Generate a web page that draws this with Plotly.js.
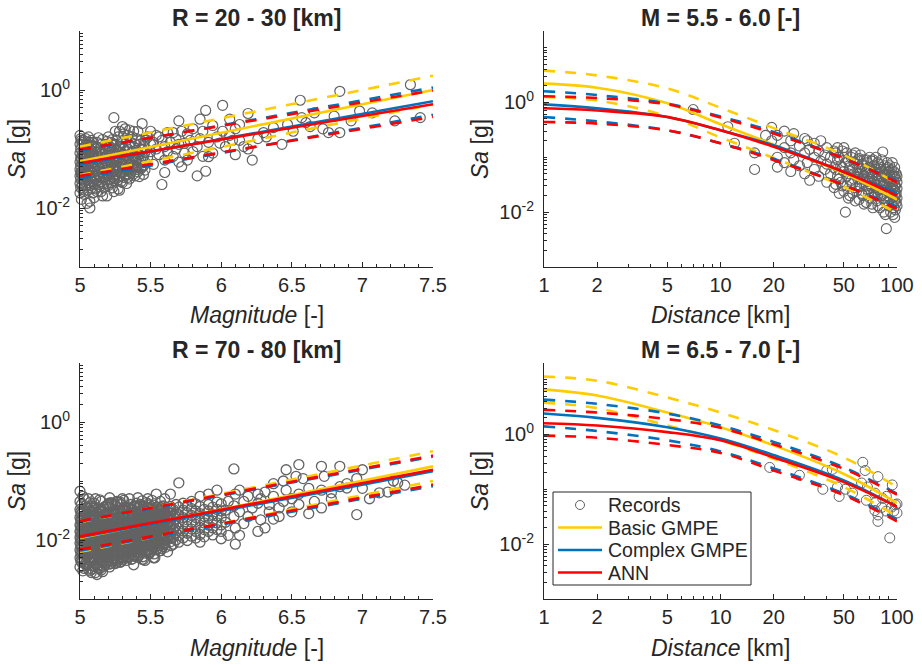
<!DOCTYPE html>
<html><head><meta charset="utf-8">
<script src="https://cdn.plot.ly/plotly-3.0.1.min.js"></script>
<style>html,body{margin:0;padding:0;background:#fff}#chart{width:922px;height:665px}</style>
</head><body><div id="chart"></div>
<script>
// ---------- DATA ----------
const titles = ["R = 20 - 30 [km]", "M = 5.5 - 6.0 [-]", "R = 70 - 80 [km]", "M = 6.5 - 7.0 [-]"];
const legendNames = ["Records", "Basic GMPE", "Complex GMPE", "ANN"];

// Panel 1: R = 20-30 km, records grouped by magnitude column
const rec1Mag = [5.00,5.01,5.02,5.03,5.04,5.05,5.06,5.07,5.08,5.10,5.12,5.14,5.16,5.18,5.20,5.22,5.24,5.26,5.28,5.30,5.32,5.34,5.36,5.38,5.40,5.42,5.44,5.46,5.48,5.50,5.52,5.54,5.56,5.58,5.60,5.62,5.64,5.66,5.68,5.70,5.72,5.74,5.76,5.78,5.80,5.83,5.85,5.87,5.89,5.91,5.94,5.97,5.99,6.01,6.03,6.06,6.08,6.10,6.13,6.16,6.19,6.22,6.26,6.30,6.32,6.37,6.43,6.47,6.51,6.56,6.57,6.60,6.63,6.66,6.72,6.76,6.80,6.84,6.92,6.98,7.07,7.23,7.34,7.41,
  5.09,5.11,5.13,5.15,5.17,5.19,5.21,5.23,5.25,5.27,5.29,5.31,5.33,5.35,5.37,5.39,5.41,5.43,5.45,5.005,5.015,5.025,5.035,5.045,5.055,5.065,5.075,5.085];
const rec1Sa = [[0.17,0.12,0.085,0.06,0.045,0.035,0.026,0.018],[0.14,0.07,0.04,0.014],[0.13,0.09,0.062,0.042,0.03,0.021],[0.105,0.05,0.017],[0.15,0.1,0.068,0.047,0.033,0.024],[0.08,0.038,0.012],[0.16,0.12,0.055,0.027],[0.01,0.013,0.075,0.043],[0.14,0.095,0.064,0.031,0.022],[0.11,0.073,0.05,0.035,0.025,0.015],[0.13,0.088,0.06,0.042,0.029,0.019],[0.1,0.068,0.047,0.033,0.023],[0.145,0.08,0.055,0.038,0.026,0.016],[0.12,0.09,0.063,0.044,0.03],[0.16,0.1,0.07,0.05,0.035,0.024],[0.13,0.078,0.054,0.038,0.027],[0.34,0.115,0.085,0.06,0.042,0.029,0.019],[0.14,0.095,0.066,0.046,0.032],[0.2,0.105,0.072,0.05,0.035,0.02],[0.24,0.125,0.08,0.056,0.039,0.027],[0.22,0.09,0.062,0.043],[0.17,0.1,0.07,0.048,0.033],[0.13,0.085,0.058,0.04],[0.2,0.075,0.052,0.038],[0.15,0.095,0.065,0.045],[0.12,0.08,0.034],[0.27,0.1,0.068,0.05],[0.14,0.088,0.06,0.044],[0.074,0.16],[0.2,0.12,0.09],[0.055,0.13],[0.17,0.1],[0.08,0.16],[0.025,0.14],[0.11,0.065,0.04],[0.19,0.09],[0.13],[0.19,0.075],[0.15,0.1],[0.3,0.12,0.06],[0.2,0.05],[0.125,0.085],[0.065,0.18],[0.14],[0.09,0.22],[0.035,0.11],[0.32,0.15],[0.075,0.2],[0.042,0.45],[0.074,0.13],[0.085,0.25],[0.16],[0.126],[0.55,0.2],[0.11],[0.32,0.17],[0.14],[0.08,0.22],[0.14,0.26],[0.11],[0.1,0.4],[0.065],[0.15],[0.19],[0.16],[0.23],[0.12],[0.26],[0.2],[0.67],[0.34],[0.28],[0.24],[0.41],[0.22],[0.19],[0.36],[0.95,0.19],[0.3],[0.44],[0.41],[0.3],[1.23],[0.34],
  [0.13,0.082,0.057,0.04,0.028,0.018],[0.1,0.066,0.046,0.032,0.021],[0.155,0.075,0.052,0.036,0.025],[0.12,0.085,0.058,0.041,0.028,0.019],[0.1,0.069,0.048,0.034,0.022],[0.135,0.078,0.055,0.039,0.026,0.016],[0.11,0.088,0.062,0.043,0.03],[0.145,0.095,0.068,0.047,0.033,0.022],[0.2,0.12,0.075,0.053,0.037],[0.16,0.09,0.062,0.044,0.03,0.021],[0.13,0.083,0.058,0.04,0.028],[0.18,0.1,0.068,0.047,0.033],[0.14,0.077,0.054,0.037,0.026],[0.21,0.11,0.062,0.044,0.031],[0.16,0.09,0.067,0.047],[0.12,0.072,0.05,0.035],[0.2,0.085,0.058,0.041],[0.14,0.1,0.064,0.046],[0.11,0.075,0.052,0.037],[0.15,0.1,0.07,0.052,0.04,0.031,0.022],[0.12,0.08,0.055,0.036,0.025],[0.14,0.075,0.05,0.034,0.019],[0.09,0.06,0.04,0.028],[0.12,0.078,0.052,0.036],[0.1,0.065,0.044,0.03,0.02],[0.13,0.085,0.058,0.04],[0.095,0.062,0.034,0.024],[0.11,0.072,0.048]];

// Panel 3: R = 70-80 km
const rec3Mag = [5.00,5.02,5.04,5.06,5.08,5.10,5.12,5.14,5.16,5.18,5.20,5.22,5.24,5.26,5.28,5.30,5.32,5.34,5.36,5.38,5.40,5.42,5.44,5.46,5.48,5.50,5.52,5.54,5.56,5.58,5.60,5.62,5.64,5.66,5.68,5.70,5.73,5.76,5.79,5.82,5.85,5.88,5.91,5.94,5.97,6.00,6.03,6.05,6.09,6.10,6.13,6.16,6.19,6.22,6.26,6.28,6.31,6.34,6.37,6.41,6.44,6.46,6.50,6.53,6.55,6.58,6.62,6.66,6.71,6.73,6.78,6.84,6.89,6.96,7.00,7.05,7.12,7.18,7.22,7.25,7.30,
  5.01,5.03,5.05,5.07,5.09,5.11,5.13,5.15,5.17,5.19,5.21,5.23,5.25,5.27,5.29,5.31,5.33,5.35,5.37,5.39,5.41,5.43,5.45,5.47,5.49,5.51,5.53,5.55,5.57,5.59,
  5.005,5.045,5.085,5.125,5.165,5.205,5.245,5.285,5.325,5.365,5.405,5.445,5.485,5.525,5.565,5.605,5.645];
const rec3Sa = [[0.0035,0.005,0.0068,0.0088,0.011,0.014,0.018,0.024,0.033,0.045,0.067],[0.003,0.0045,0.006,0.008,0.01,0.013,0.017,0.022,0.03,0.055],[0.004,0.0055,0.0072,0.0095,0.012,0.015,0.02,0.027,0.038],[0.0032,0.0047,0.0064,0.0085,0.011,0.014,0.019,0.025,0.035,0.05],[0.0028,0.0042,0.0058,0.0078,0.01,0.013,0.017,0.023,0.031],[0.0036,0.005,0.0068,0.009,0.0115,0.0148,0.019,0.026,0.036,0.042],[0.0026,0.004,0.0056,0.0075,0.0098,0.0125,0.016,0.021,0.029],[0.0033,0.0047,0.0064,0.0085,0.011,0.014,0.018,0.024,0.033,0.048],[0.0029,0.0044,0.006,0.0081,0.0105,0.0135,0.0175,0.023,0.031],[0.0038,0.0053,0.007,0.0092,0.012,0.0155,0.02,0.027,0.037],[0.0045,0.006,0.0078,0.01,0.013,0.0165,0.021,0.028,0.04],[0.004,0.0056,0.0074,0.0097,0.0125,0.016,0.021,0.029,0.043],[0.0048,0.0064,0.0084,0.011,0.014,0.018,0.023,0.031],[0.0042,0.0058,0.0077,0.01,0.013,0.017,0.022,0.03,0.045],[0.005,0.0067,0.0088,0.0115,0.015,0.019,0.025,0.034],[0.0046,0.0062,0.0082,0.0107,0.014,0.018,0.024,0.033,0.05],[0.0054,0.0072,0.0094,0.012,0.0155,0.02,0.026,0.036],[0.005,0.0066,0.0087,0.0113,0.0147,0.019,0.025,0.034],[0.0058,0.0077,0.01,0.013,0.0168,0.022,0.029,0.04],[0.0038,0.0053,0.007,0.0092,0.012,0.0157,0.02,0.027,0.037],[0.006,0.008,0.0105,0.0136,0.0175,0.023,0.03,0.042],[0.0055,0.0073,0.0095,0.0124,0.016,0.021,0.028,0.038],[0.0047,0.0086,0.011,0.0145,0.019,0.025,0.033,0.046],[0.0045,0.006,0.008,0.0105,0.0137,0.018,0.024,0.032],[0.007,0.0093,0.012,0.0157,0.02,0.027,0.036,0.05],[0.0064,0.0085,0.011,0.0145,0.019,0.025,0.033],[0.005,0.0075,0.01,0.013,0.017,0.022,0.029,0.039],[0.0068,0.009,0.0118,0.0155,0.02,0.027,0.036,0.06],[0.008,0.0106,0.014,0.018,0.024,0.031],[0.0072,0.0096,0.0125,0.0165,0.021,0.028,0.037],[0.0087,0.0115,0.015,0.02,0.026,0.034,0.05],[0.0063,0.0103,0.0135,0.0178,0.023,0.03],[0.0093,0.0123,0.016,0.021,0.028,0.037,0.06],[0.0085,0.0112,0.0147,0.019,0.025,0.033],[0.01,0.0132,0.0173,0.0225,0.029,0.04],[0.0092,0.012,0.0158,0.0205,0.027,0.036,0.093],[0.0108,0.0142,0.0186,0.024,0.032,0.042],[0.0098,0.013,0.017,0.022,0.029,0.038],[0.0116,0.0153,0.02,0.026,0.034,0.045],[0.0108,0.014,0.0184,0.024,0.031,0.041],[0.0092,0.0124,0.0163,0.0213,0.028,0.037,0.055],[0.0113,0.015,0.0195,0.025,0.033],[0.014,0.018,0.0235,0.031,0.04,0.06],[0.0122,0.016,0.021,0.027,0.036],[0.015,0.0195,0.0255,0.033,0.044,0.07],[0.0105,0.014,0.018,0.024,0.031,0.041],[0.02,0.032],[0.012,0.045],[0.16,0.025,0.038],[0.0085,0.016,0.06],[0.012,0.03,0.07],[0.019,0.045],[0.025,0.055],[0.035],[0.014,0.042,0.06],[0.022,0.05],[0.016,0.065],[0.03,0.04],[0.0226,0.055,0.09],[0.025,0.035],[0.1,0.045],[0.155,0.07],[0.03,0.05],[0.12],[0.19,0.06,0.04],[0.11],[0.075,0.028],[0.045],[0.177,0.035,0.07],[0.12],[0.063,0.05],[0.177,0.08],[0.076,0.09],[0.027,0.11],[0.155,0.075],[0.05],[0.063],[0.065],[0.1],[0.093],[0.085],
  [0.0042,0.0058,0.0077,0.0098,0.0125,0.016,0.021,0.028,0.04],[0.0033,0.0048,0.0063,0.0083,0.0106,0.0135,0.0175,0.023,0.031,0.05],[0.0038,0.0052,0.007,0.0092,0.0118,0.015,0.0195,0.026,0.036],[0.003,0.0044,0.006,0.008,0.0102,0.013,0.0168,0.022,0.03,0.043],[0.0036,0.005,0.0066,0.0087,0.0112,0.0143,0.0185,0.025,0.034],[0.0028,0.0045,0.0062,0.0082,0.0106,0.0137,0.0178,0.024,0.032,0.05],[0.0034,0.0049,0.0066,0.0088,0.0114,0.0146,0.019,0.025,0.035],[0.0031,0.0046,0.0063,0.0084,0.0108,0.014,0.018,0.024,0.033,0.045],[0.0036,0.0051,0.0069,0.009,0.0117,0.015,0.0195,0.026,0.036],[0.0042,0.0057,0.0075,0.0098,0.0127,0.0163,0.021,0.028,0.039],[0.0035,0.005,0.0068,0.009,0.0118,0.0152,0.02,0.026,0.036,0.052],[0.0044,0.006,0.0079,0.0103,0.0133,0.017,0.022,0.03,0.041],[0.004,0.0055,0.0073,0.0096,0.0124,0.016,0.021,0.028,0.038],[0.0047,0.0063,0.0083,0.0108,0.014,0.018,0.024,0.032,0.044],[0.0043,0.0059,0.0078,0.0102,0.0132,0.017,0.022,0.03,0.04],[0.005,0.0067,0.0088,0.0115,0.0148,0.019,0.025,0.034,0.047],[0.0045,0.0061,0.0081,0.0106,0.0137,0.0178,0.023,0.031],[0.0053,0.0071,0.0093,0.0121,0.0156,0.02,0.026,0.036,0.05],[0.0048,0.0065,0.0086,0.0112,0.0145,0.0188,0.024,0.033],[0.0056,0.0075,0.0098,0.0128,0.0165,0.021,0.028,0.038],[0.0051,0.0069,0.009,0.0118,0.0153,0.02,0.026,0.035,0.052],[0.006,0.008,0.0104,0.0135,0.0175,0.023,0.03,0.04],[0.0047,0.0073,0.0096,0.0125,0.0162,0.021,0.027,0.037],[0.0064,0.0085,0.011,0.0143,0.0185,0.024,0.031,0.043],[0.0058,0.0078,0.0102,0.0133,0.0172,0.022,0.029,0.039],[0.0068,0.009,0.0117,0.0152,0.0197,0.026,0.034,0.047],[0.005,0.0083,0.0108,0.014,0.0182,0.024,0.031],[0.0073,0.0097,0.0126,0.0163,0.021,0.027,0.036],[0.0066,0.0088,0.0115,0.015,0.0195,0.025,0.033,0.045],[0.0078,0.0103,0.0134,0.0174,0.0225,0.029,0.038],
  [0.0045,0.0062,0.0082,0.0105,0.0135,0.0172,0.022,0.03],[0.0037,0.0053,0.0071,0.0093,0.012,0.0155,0.02,0.027],[0.0032,0.0048,0.0066,0.0088,0.0114,0.0147,0.019,0.026,0.038],[0.0036,0.0053,0.0072,0.0095,0.0122,0.0157,0.0205,0.028],[0.0042,0.0058,0.0078,0.0101,0.013,0.0167,0.0215,0.03],[0.0039,0.0055,0.0075,0.0099,0.0128,0.0166,0.0215,0.029,0.042],[0.0046,0.0062,0.0082,0.0107,0.0138,0.0178,0.023,0.031],[0.0042,0.0059,0.0079,0.0104,0.0135,0.0176,0.0228,0.031,0.044],[0.005,0.0068,0.0089,0.0116,0.015,0.0194,0.025,0.034],[0.0047,0.0064,0.0085,0.0111,0.0144,0.0186,0.024,0.033],[0.0055,0.0074,0.0097,0.0127,0.0164,0.021,0.028,0.038],[0.0052,0.007,0.0092,0.012,0.0155,0.02,0.026,0.035],[0.006,0.0081,0.0106,0.0138,0.0179,0.023,0.03,0.041],[0.0058,0.0078,0.0102,0.0133,0.0172,0.0225,0.029],[0.0066,0.0088,0.0115,0.015,0.0195,0.025,0.033],[0.0075,0.01,0.013,0.017,0.022,0.029],[0.008,0.0107,0.014,0.018,0.024,0.032]];

// Panel 2: M = 5.5-6.0, records grouped by distance column
const rec2Dist = [7,11,12,15.6,18,19.5,21,23,25,26,28,30,31,32,34,36,37,39,40,42,44,46,48,50,51,52,54,55,57,58,60,62,63,65,66,68,70,71,73,74,76,77,79,80,82,83,85,86,87,88,90,91,92,93,94,95,96,97,98,99,100,
  45,47,49,53,56,59,61,64,67,69,72,75,78,81,84,89,97];
const rec2Sa = [[0.74],[0.36],[0.18],[0.12,0.06],[0.25],[0.35,0.2],[0.25,0.1,0.066],[0.15,0.3,0.08],[0.2,0.12,0.055],[0.27,0.09],[0.16,0.07],[0.22,0.12,0.05],[0.2,0.08],[0.038,0.14],[0.1,0.06,0.18],[0.13,0.045],[0.2,0.085],[0.11,0.06],[0.15,0.075,0.035],[0.1,0.05],[0.13,0.065,0.028],[0.15,0.09,0.045],[0.07,0.035],[0.15,0.1,0.055,0.024],[0.01,0.08],[0.045,0.12,0.03],[0.065,0.02],[0.1,0.038],[0.08,0.05],[0.12,0.028,0.016],[0.065,0.04,0.09],[0.055,0.03,0.11],[0.075,0.022],[0.045,0.09,0.014],[0.06,0.035],[0.08,0.026,0.05],[0.1,0.04,0.065,0.018],[0.03,0.055],[0.09,0.045,0.012],[0.07,0.022,0.035],[0.06,0.028,0.1],[0.04,0.016],[0.075,0.05,0.025],[0.033,0.012,0.06],[0.09,0.044,0.02],[0.125,0.03,0.055],[0.07,0.016,0.038],[0.048,0.025,0.009],[0.005,0.06,0.03],[0.08,0.02,0.042],[0.055,0.013,0.034,0.024],[0.07,0.017,0.045],[0.038,0.01,0.028],[0.06,0.022,0.05],[0.032,0.014,0.08],[0.045,0.019,0.027,0.009],[0.055,0.036,0.012],[0.025,0.065,0.016],[0.04,0.03,0.02,0.011],[0.05,0.015,0.022],[0.035,0.027,0.018,0.013,0.045],
  [0.12,0.06,0.032],[0.1,0.04,0.022],[0.13,0.065,0.03],[0.085,0.05,0.018],[0.11,0.06,0.033,0.022],[0.075,0.045,0.024],[0.095,0.05,0.03,0.017],[0.07,0.04,0.02],[0.09,0.055,0.03,0.015],[0.065,0.036,0.022],[0.085,0.05,0.028,0.014],[0.055,0.032,0.02],[0.08,0.045,0.026,0.013],[0.065,0.037,0.021],[0.05,0.03,0.018,0.01],[0.065,0.04,0.024,0.015],[0.045,0.03,0.021,0.008]];

// Panel 4: M = 6.5-7.0
const rec4Dist = [19,28,38,40,43,46,47,51,56,63,64,66,67,68,75,76,78,82,83,87,91,93,94,96,98,100];
const rec4Sa = [[0.25],[0.18],[0.1],[0.22],[0.23],[0.11],[0.074],[0.1],[0.085],[0.13],[0.31],[0.22],[0.063],[0.11],[0.085,0.041],[0.058],[0.17,0.034,0.026],[0.047],[0.068],[0.074,0.04],[0.013],[0.047],[0.12],[0.04],[0.052],[0.054,0.037]];

// Model curves
const magGrid = [5, 5.5, 6, 6.5, 7, 7.5];
const distGrid = [1, 2, 5, 10, 20, 50, 100];
// Panel 1 (R = 20-30 km)
const p1Basic = {med:[0.062,0.108,0.188,0.328,0.573,1.0], up:[0.11,0.19,0.33,0.57,1.0,1.75], lo:[0.036,0.062,0.108,0.19,0.33,0.57]};
const p1Complex = {med:[0.055,0.09,0.147,0.241,0.394,0.646], up:[0.094,0.155,0.25,0.41,0.67,1.1], lo:[0.032,0.052,0.086,0.14,0.23,0.38]};
const p1ANN = {med:[0.058,0.091,0.145,0.23,0.363,0.575], up:[0.098,0.155,0.245,0.39,0.62,0.98], lo:[0.035,0.055,0.087,0.138,0.22,0.35]};
// Panel 2 (M = 5.5-6.0)
const p2Basic = {med:[2.2,1.85,0.96,0.4,0.17,0.051,0.017], up:[3.8,3.1,1.8,0.8,0.34,0.11,0.033], lo:[1.25,1.08,0.56,0.23,0.097,0.029,0.0097]};
const p2Complex = {med:[0.92,0.78,0.54,0.31,0.165,0.054,0.022], up:[1.6,1.36,0.95,0.55,0.29,0.095,0.037], lo:[0.54,0.45,0.31,0.18,0.094,0.031,0.0125]};
const p2ANN = {med:[0.78,0.71,0.54,0.31,0.155,0.054,0.02], up:[1.29,1.2,0.92,0.53,0.27,0.095,0.035], lo:[0.44,0.41,0.31,0.18,0.089,0.031,0.0115]};
// Panel 3 (R = 70-80 km)
const p3Basic = {med:[0.0108,0.0189,0.033,0.0578,0.101,0.177], up:[0.02,0.0348,0.0607,0.106,0.184,0.32], lo:[0.0063,0.011,0.0191,0.0331,0.0575,0.1]};
const p3Complex = {med:[0.0112,0.0186,0.0311,0.0519,0.0865,0.146], up:[0.0205,0.034,0.056,0.093,0.155,0.26], lo:[0.0066,0.011,0.0182,0.0302,0.05,0.082]};
const p3ANN = {med:[0.0115,0.0193,0.0325,0.0547,0.092,0.155], up:[0.021,0.035,0.058,0.097,0.162,0.27], lo:[0.0069,0.0115,0.019,0.0316,0.0525,0.087]};
// Panel 4 (M = 6.5-7.0)
const p4Basic = {med:[6.6,5.1,2.5,1.35,0.63,0.19,0.056], up:[11.3,9.5,4.7,2.5,1.2,0.38,0.11], lo:[3.8,3.0,1.45,0.78,0.36,0.11,0.032]};
const p4Complex = {med:[2.4,2.0,1.35,0.84,0.42,0.145,0.048], up:[4.3,3.6,2.4,1.45,0.73,0.25,0.083], lo:[1.4,1.15,0.78,0.49,0.24,0.083,0.028]};
const p4ANN = {med:[1.6,1.45,1.1,0.78,0.38,0.135,0.048], up:[2.8,2.5,1.9,1.32,0.66,0.235,0.08], lo:[0.95,0.87,0.64,0.46,0.22,0.078,0.026]};

// ---------- STYLE ----------
const FONT = "Liberation Sans, Arial, Helvetica, sans-serif";
const TXT = "#262626";
const colors = {basic:"#FFCC00", complex:"#0072BD", ann:"#FF0000"};
const modelColors = [colors.basic, colors.complex, colors.ann];
const markerGray = "#636363";
const LW = 2.6;

function flatten(cols, lists){
  const x=[], y=[];
  cols.forEach((c,i)=>lists[i].forEach(v=>{x.push(c); y.push(v);}));
  return {x, y};
}

const traces = [];
function addPanel(ax, cols, lists, grid, models, spline, mlw){
  const r = flatten(cols, lists);
  traces.push({type:"scatter", mode:"markers", x:r.x, y:r.y, xaxis:"x"+ax, yaxis:"y"+ax,
    name:legendNames[0], showlegend:false, cliponaxis:false,
    marker:{symbol:"circle-open", size:10, color:markerGray, line:{width:mlw, color:markerGray}}, hoverinfo:"skip"});
  models.forEach((m,i)=>{
    const col = modelColors[i];
    const shape = spline ? "spline" : "linear";
    ["up","lo"].forEach(k=>{
      traces.push({type:"scatter", mode:"lines", x:grid, y:m[k], xaxis:"x"+ax, yaxis:"y"+ax,
        showlegend:false, line:{color:col, width:LW, dash:"11px,10px", shape:shape}, hoverinfo:"skip"});
    });
    traces.push({type:"scatter", mode:"lines", x:grid, y:m.med, xaxis:"x"+ax, yaxis:"y"+ax,
      name:legendNames[i+1], showlegend:false, line:{color:col, width:LW, shape:shape}, hoverinfo:"skip"});
  });
}
addPanel("", rec1Mag, rec1Sa, magGrid, [p1Basic,p1Complex,p1ANN], false, 1.2);
addPanel("2", rec2Dist, rec2Sa, distGrid, [p2Basic,p2Complex,p2ANN], true, 1.1);
addPanel("3", rec3Mag, rec3Sa, magGrid, [p3Basic,p3Complex,p3ANN], false, 1.3);
addPanel("4", rec4Dist, rec4Sa, distGrid, [p4Basic,p4Complex,p4ANN], true, 1);

// axis tick helpers
const logMinor = [];
for (let k=-3; k<=1; k++){ for (let m=1; m<=9; m++){ const v = m*Math.pow(10,k); if (!(m===1 && (k===-2||k===0))) logMinor.push(v); } }
const W=922, H=665;
const px = v=>v/W, py = v=>1-v/H;
const xL=[px(80),px(433)], xR=[px(544),px(897)], yT=[py(267),py(31)], yB=[py(599),py(363)];

const tickFont = {family:FONT, size:20, color:TXT};
function common(){ return {ticks:"inside", ticklen:5, tickwidth:1, tickcolor:TXT, showline:true, linecolor:TXT, linewidth:1,
  mirror:false, showgrid:false, zeroline:false, tickfont:tickFont}; }
function linAx(dom, anchor){ return Object.assign(common(), {domain:dom, anchor:anchor, range:[5,7.5], tickmode:"linear", tick0:5, dtick:0.5,
  minor:{dtick:0.1, tick0:5, ticks:"inside", ticklen:3, tickcolor:TXT, showgrid:false}}); }
function logXAx(dom, anchor){ return Object.assign(common(), {domain:dom, anchor:anchor, type:"log", range:[0,2], tickmode:"array",
  tickvals:[1,2,5,10,20,50,100], ticktext:["1","2","5","10","20","50","100"],
  minor:{tickmode:"array", tickvals:[3,4,6,7,8,9,30,40,60,70,80,90], ticks:"inside", ticklen:3, tickcolor:TXT, showgrid:false}}); }
function logYAx(dom, anchor, top){ return Object.assign(common(), {domain:dom, anchor:anchor, type:"log", range:[-3, top], tickmode:"array",
  tickvals:[0.01,1], ticktext:["10<sup>-2</sup>","10<sup>0</sup>"], ticklabelstandoff:5,
  minor:{tickmode:"array", tickvals:logMinor, ticks:"inside", ticklen:3, tickcolor:TXT, showgrid:false}}); }

const topR = Math.log10(20);
const annFont = {family:FONT, size:23, color:TXT};
const ann = [];
function addText(x,y,text,opts){ ann.push(Object.assign({xref:"paper", yref:"paper", x:x, y:y, text:text, showarrow:false,
  xanchor:"center", yanchor:"middle", font:annFont}, opts||{})); }
addText(px(256.5), py(18), "<b>"+titles[0]+"</b>");
addText(px(720.5), py(18), "<b>"+titles[1]+"</b>");
addText(px(256.5), py(350), "<b>"+titles[2]+"</b>");
addText(px(720.5), py(350), "<b>"+titles[3]+"</b>");
addText(px(256.5), py(315), "<i>Magnitude</i> [-]");
addText(px(720.5), py(315), "<i>Distance</i> [km]");
addText(px(256.5), py(648), "<i>Magnitude</i> [-]");
addText(px(720.5), py(648), "<i>Distance</i> [km]");
addText(px(17), py(149), "<i>Sa</i> [g]", {textangle:-90});
addText(px(480), py(149), "<i>Sa</i> [g]", {textangle:-90});
addText(px(17), py(481), "<i>Sa</i> [g]", {textangle:-90});
addText(px(480), py(481), "<i>Sa</i> [g]", {textangle:-90});

// legend (drawn as a box in the lower-right panel)
const legRows = [505, 527.5, 550, 572.5];
const legFont = {family:FONT, size:19.5, color:TXT};
const shapes = [{type:"rect", xref:"paper", yref:"paper", x0:px(553), x1:px(751), y0:py(585), y1:py(492),
  line:{color:TXT, width:1}, fillcolor:"#fff", layer:"above"}];
shapes.push({type:"circle", xref:"paper", yref:"paper", x0:px(575.5), x1:px(584.5), y0:py(legRows[0]+4.5), y1:py(legRows[0]-4.5),
  line:{color:markerGray, width:1}, layer:"above"});
for (let i=1;i<4;i++){
  shapes.push({type:"line", xref:"paper", yref:"paper", x0:px(558), x1:px(602), y0:py(legRows[i]), y1:py(legRows[i]),
    line:{color:modelColors[i-1], width:LW}, layer:"above"});
}
legendNames.forEach((n,i)=>addText(px(606), py(legRows[i]), n, {xanchor:"left", font:legFont}));

const layout = {
  width:W, height:H, margin:{l:0,r:0,t:0,b:0}, paper_bgcolor:"#fff", plot_bgcolor:"rgba(0,0,0,0)",
  font:{family:FONT, color:TXT}, showlegend:false,
  xaxis:linAx(xL,"y"), yaxis:logYAx(yT,"x",1),
  xaxis2:logXAx(xR,"y2"), yaxis2:logYAx(yT,"x2",topR),
  xaxis3:linAx(xL,"y3"), yaxis3:logYAx(yB,"x3",1),
  xaxis4:logXAx(xR,"y4"), yaxis4:logYAx(yB,"x4",topR),
  shapes:shapes, annotations:ann
};
Plotly.newPlot("chart", traces, layout, {staticPlot:true, displayModeBar:false});
</script></body></html>
